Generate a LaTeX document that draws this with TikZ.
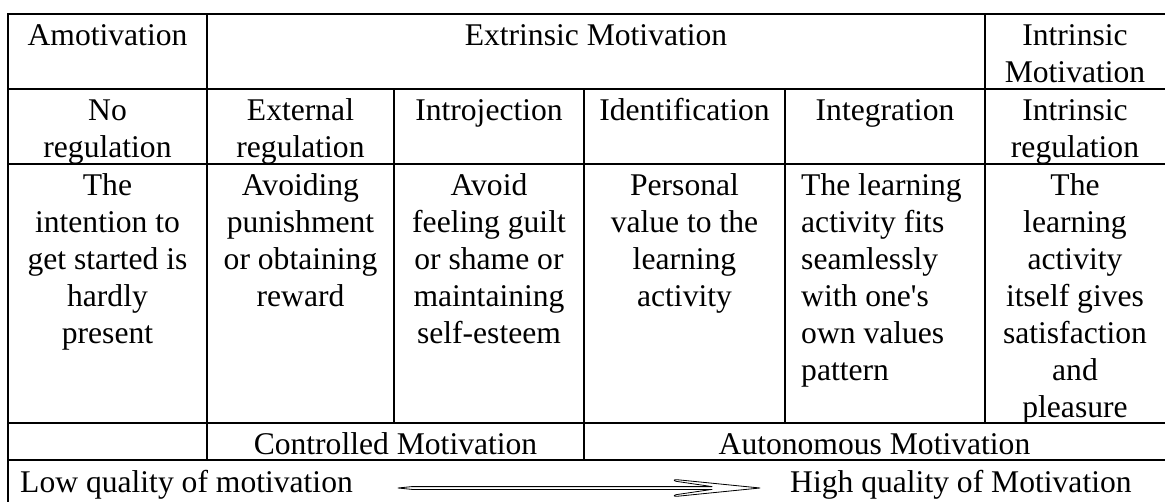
\documentclass[tikz,border=0pt]{standalone}
\usepackage{fontspec}
\setmainfont{Liberation Serif}
\begin{document}
\begin{tikzpicture}[x=1pt,y=-1pt,
  cell/.style={anchor=north, inner sep=0pt, align=center, font=\fontsize{31.6}{37}\selectfont},
  leftcell/.style={cell, anchor=north west, align=left},
  rule/.style={line width=2pt, line cap=rect},
  arrowshape/.style={draw=black, fill=white, line width=0.8pt, line join=round}]
\useasboundingbox (0,0) rectangle (1165,502);
\begin{scope}
\clip (0,0) rectangle (1165,502);
% horizontal rules
\draw[rule] (8,14) -- (1170,14);
\draw[rule] (8,89) -- (1170,89);
\draw[rule] (8,164) -- (1170,164);
\draw[rule] (8,423) -- (1170,423);
\draw[rule] (8,460) -- (1170,460);
% vertical rules
\draw[rule] (8,14) -- (8,510);
\draw[rule] (207,14) -- (207,460);
\draw[rule] (394,89) -- (394,423);
\draw[rule] (584,89) -- (584,460);
\draw[rule] (785,89) -- (785,423);
\draw[rule] (985,14) -- (985,423);
\end{scope}
% row 1 (baseline = top + 31, strut height 25.9)
\node[cell] (amot) at (107.5,19.1) {\strut Amotivation};
\node[cell] (extr) at (596,19.1) {\strut Extrinsic Motivation};
\node[cell] (intr) at (1075,19.1) {\strut Intrinsic\\Motivation};
% row 2
\node[cell] (noreg) at (107.5,94.1) {\strut No\\regulation};
\node[cell] (extreg) at (300.5,94.1) {\strut External\\regulation};
\node[cell] (introj) at (489,94.1) {\strut Introjection};
\node[cell] (ident) at (684.5,94.1) {\strut Identification};
\node[cell] (integ) at (885,94.1) {\strut Integration};
\node[cell] (intreg) at (1075,94.1) {\strut Intrinsic\\regulation};
% row 3
\node[cell] (d1) at (107.5,169.1) {\strut The\\intention to\\get started is\\hardly\\present};
\node[cell] (d2) at (300.5,169.1) {\strut Avoiding\\punishment\\or obtaining\\reward};
\node[cell] (d3) at (489,169.1) {\strut Avoid\\feeling guilt\\or shame or\\maintaining\\self-esteem};
\node[cell] (d4) at (684.5,169.1) {\strut Personal\\value to the\\learning\\activity};
\node[leftcell] (d5) at (801,169.1) {\strut The learning\\activity fits\\seamlessly\\with one\textquotesingle s\\own values\\pattern};
\node[cell] (d6) at (1075,169.1) {\strut The\\learning\\activity\\itself gives\\satisfaction\\and\\pleasure};
% row 4
\node[cell] (ctrl) at (395.5,428.1) {\strut Controlled Motivation};
\node[cell] (auton) at (874.5,428.1) {\strut Autonomous Motivation};
% row 5
\node[leftcell] (low) at (20,466.1) {\strut Low quality of motivation};
\node[leftcell] (high) at (790,466.1) {\strut High quality of Motivation};
% double arrow shape
\coordinate (atail) at (398,488);
\coordinate (atip) at (760,488);
\draw[arrowshape] (atail) -- (412,486.6) -- (712,486.6) -- (676,481.3)
  .. controls (673,480.4) and (674,479.4) .. (677,479.7) -- (atip)
  -- (677,496.3) .. controls (674,496.6) and (673,495.6) .. (676,494.7)
  -- (712,489.4) -- (412,489.4) -- cycle;
\end{tikzpicture}
\end{document}
